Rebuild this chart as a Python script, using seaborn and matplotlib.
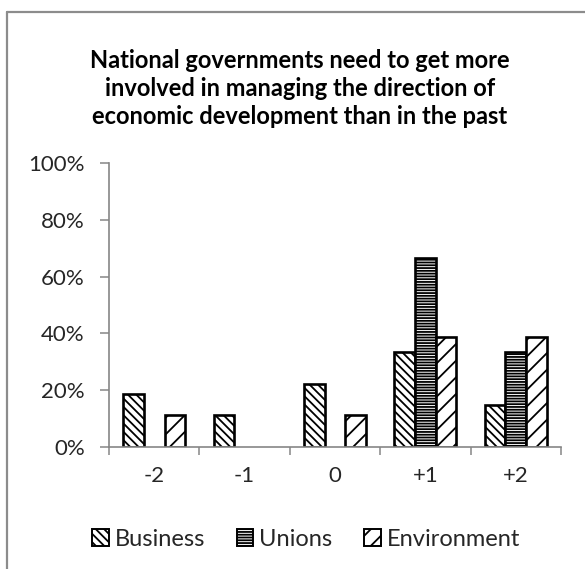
import matplotlib
matplotlib.use("Agg")
import matplotlib.pyplot as plt
import seaborn as sns
import pandas as pd
import numpy as np
from matplotlib.patches import Patch
from matplotlib.lines import Line2D

# ---- data ----
categories = ["-2", "-1", "0", "+1", "+2"]
series_names = ["Business", "Unions", "Environment"]
business = [18.5, 11.1, 22.2, 33.3, 14.8]
unions = [0.0, 0.0, 0.0, 66.7, 33.3]
environment = [11.1, 0.0, 11.1, 38.9, 38.9]
yticks = [0, 20, 40, 60, 80, 100]
ytick_labels = ["0%", "20%", "40%", "60%", "80%", "100%"]
title_lines = [
    "National governments need to get more",
    "involved in managing the direction of",
    "economic development than in the past",
]
hatches = {"Business": "\\\\\\\\", "Unions": "------", "Environment": "//"}

sns.set_theme(style="white")
plt.rcParams["font.family"] = ["Lato", "DejaVu Sans"]
plt.rcParams["hatch.linewidth"] = 1.3
plt.rcParams["hatch.color"] = "black"

df = pd.DataFrame({
    "category": categories * 3,
    "series": np.repeat(series_names, len(categories)),
    "value": business + unions + environment,
})

W, H = 585, 569
fig = plt.figure(figsize=(W / 100, H / 100), dpi=100)
fig.patch.set_facecolor("white")
ax = fig.add_axes([109 / W, 1 - 447 / H, (561 - 109) / W, (447 - 163) / H])

sns.barplot(data=df, x="category", y="value", hue="series", order=categories,
            hue_order=series_names, palette=["white"] * 3, saturation=1,
            width=0.687, gap=0, edgecolor="black", linewidth=1.9,
            errorbar=None, legend=False, ax=ax)

for name, cont in zip(series_names, ax.containers):
    for bar in cont:
        bar.set_hatch(hatches[name])
        if bar.get_height() == 0:
            bar.set_visible(False)

ax.set_xlim(-0.5, len(categories) - 0.5)
ax.set_ylim(0, 100)
ax.set_xlabel("")
ax.set_ylabel("")
ax.set_yticks(yticks)
ax.set_yticklabels(ytick_labels)
ax.set_xticks(range(len(categories)))
ax.set_xticklabels(categories)
ax.set_xticks(np.arange(-0.5, len(categories), 1.0), minor=True)

axis_col = "#868686"
for s in ["top", "right"]:
    ax.spines[s].set_visible(False)
for s in ["left", "bottom"]:
    ax.spines[s].set_color(axis_col)
    ax.spines[s].set_linewidth(1.2)

ax.tick_params(axis="y", which="major", direction="out", length=6.5, width=1.1,
               color=axis_col, labelsize=16, labelcolor="#262626", pad=11, left=True)
ax.tick_params(axis="x", which="major", length=0, labelsize=16,
               labelcolor="#262626", pad=14, bottom=True)
ax.tick_params(axis="x", which="minor", direction="out", length=6, width=1.1,
               color=axis_col, bottom=True)

# title
for i, line in enumerate(title_lines):
    fig.text(300 / W, 1 - (68 + 28 * i) / H, line, ha="center", va="baseline",
             fontsize=17, fontweight="bold", color="black")

# legend
handles = [Patch(facecolor="white", edgecolor="black", hatch=hatches[n], linewidth=1.4)
           for n in series_names]
fig.legend(handles, series_names, loc="center", bbox_to_anchor=(306 / W, 1 - 539 / H),
           ncol=3, frameon=False, fontsize=17, handlelength=0.7, handleheight=0.7,
           handletextpad=0.25, columnspacing=1.35, labelcolor="#262626")

# chart border (left and top visible)
fig.add_artist(Line2D([7 / W, 7 / W], [0, 1 - 12 / H], transform=fig.transFigure,
                      color="#8c8c8c", linewidth=1.6))
fig.add_artist(Line2D([7 / W, 1], [1 - 12 / H, 1 - 12 / H], transform=fig.transFigure,
                      color="#8c8c8c", linewidth=1.6))

fig.savefig("out.png", dpi=100, facecolor="white")
